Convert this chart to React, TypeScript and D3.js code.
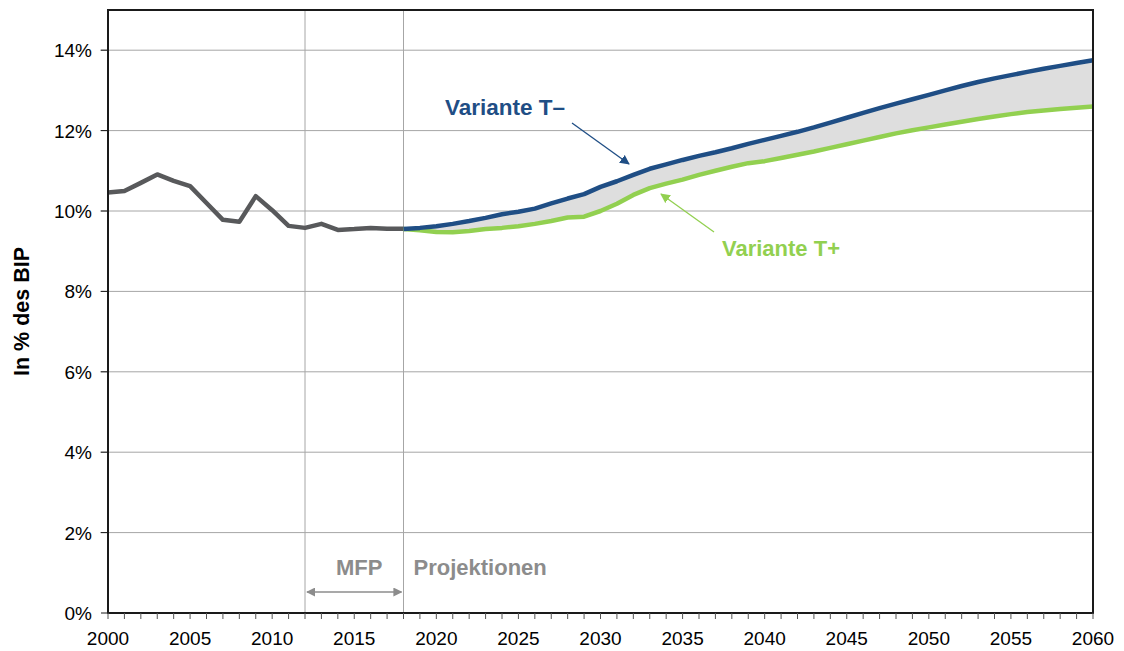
import React from "react";
import * as d3 from "d3";

// historical series 2000-2018
const histYears = d3.range(2000, 2019);
const histValues = [10.46, 10.5, 10.7, 10.91, 10.75, 10.62, 10.2, 9.78, 9.73, 10.37, 10.02, 9.63, 9.58, 9.68, 9.53, 9.55, 9.58, 9.56, 9.56];

// projections 2018-2060
const projYears = d3.range(2018, 2061);
const tMinus = [
  9.55, 9.58, 9.62, 9.68, 9.75, 9.83, 9.92, 9.98, 10.06, 10.19, 10.31, 10.42, 10.6, 10.74, 10.9, 11.05, 11.16, 11.27,
  11.37, 11.46, 11.56, 11.67, 11.77, 11.87, 11.97, 12.08, 12.2, 12.32, 12.44, 12.56, 12.67, 12.78, 12.89, 13.0, 13.11,
  13.21, 13.3, 13.38, 13.46, 13.54, 13.61, 13.68, 13.75,
];
const tPlus = [
  9.55, 9.52, 9.48, 9.47, 9.5, 9.55, 9.58, 9.62, 9.68, 9.75, 9.84, 9.86, 10.0, 10.18, 10.4, 10.57, 10.68, 10.78,
  10.9, 11.0, 11.1, 11.19, 11.24, 11.32, 11.4, 11.48, 11.57, 11.66, 11.75, 11.84, 11.93, 12.01, 12.08, 12.15, 12.22,
  12.29, 12.35, 12.41, 12.46, 12.5, 12.54, 12.57, 12.6,
];

const yTicks = [0, 2, 4, 6, 8, 10, 12, 14];
const xLabels = d3.range(2000, 2061, 5);
const markers = [2012, 2018];

const W = 1124;
const H = 651;
const M = { left: 108, right: 1093, top: 10, bottom: 613 };
const FONT = "'Liberation Sans', Arial, sans-serif";

export default function App() {
  const x = d3.scaleLinear().domain([2000, 2060]).range([M.left, M.right]);
  const y = d3.scaleLinear().domain([0, 15]).range([M.bottom, M.top]);

  const line = d3
    .line<[number, number]>()
    .x((d) => x(d[0]))
    .y((d) => y(d[1]));

  const band = d3
    .area<number>()
    .x((d, i) => x(projYears[i]))
    .y0((d, i) => y(tPlus[i]))
    .y1((d) => y(d));

  const hist = histYears.map((yr, i) => [yr, histValues[i]] as [number, number]);
  const minus = projYears.map((yr, i) => [yr, tMinus[i]] as [number, number]);
  const plus = projYears.map((yr, i) => [yr, tPlus[i]] as [number, number]);

  return (
    <svg width={W} height={H} style={{ position: "absolute", left: 0, top: 0 }} fontFamily={FONT}>
      <defs>
        <marker id="arrBlue" viewBox="0 0 10 10" refX="9" refY="5" markerWidth="7.5" markerHeight="7.5" orient="auto">
          <path d="M0,0 L10,5 L0,10 z" fill="#1f4e85" />
        </marker>
        <marker id="arrGreen" viewBox="0 0 10 10" refX="9" refY="5" markerWidth="7.5" markerHeight="7.5" orient="auto">
          <path d="M0,0 L10,5 L0,10 z" fill="#92d050" />
        </marker>
        <marker id="arrGray" viewBox="0 0 10 10" refX="9" refY="5" markerWidth="6" markerHeight="6" orient="auto-start-reverse">
          <path d="M0,0 L10,5 L0,10 z" fill="#8c8c8c" />
        </marker>
      </defs>

      {/* gridlines */}
      {yTicks.filter((t) => t > 0).map((t) => (
        <line key={t} x1={M.left - 8} x2={M.right} y1={y(t)} y2={y(t)} stroke="#a6a6a6" strokeWidth={1} />
      ))}
      {markers.map((m) => (
        <line key={m} x1={x(m)} x2={x(m)} y1={M.top} y2={M.bottom} stroke="#a6a6a6" strokeWidth={1} />
      ))}

      {/* band between variants */}
      <path d={band(tMinus) || ""} fill="#dedede" />

      {/* lines */}
      <path d={line(hist) || ""} fill="none" stroke="#58595b" strokeWidth={4.5} strokeLinejoin="round" />
      <path d={line(plus) || ""} fill="none" stroke="#92d050" strokeWidth={4.5} strokeLinejoin="round" />
      <path d={line(minus) || ""} fill="none" stroke="#1f4e85" strokeWidth={4.5} strokeLinejoin="round" />

      {/* frame */}
      <rect x={M.left} y={M.top} width={M.right - M.left} height={M.bottom - M.top} fill="none" stroke="#1a1a1a" strokeWidth={2} />

      {/* y axis ticks and labels */}
      {yTicks.map((t) => (
        <g key={t}>
          <line x1={M.left - 7} x2={M.left} y1={y(t)} y2={y(t)} stroke="#1a1a1a" strokeWidth={1} />
          <text x={92} y={y(t) + 7} textAnchor="end" fontSize={19} fill="#000">
            {t}%
          </text>
        </g>
      ))}

      {/* x axis ticks */}
      {d3.range(2000, 2061).map((yr) => (
        <line key={yr} x1={x(yr)} x2={x(yr)} y1={M.bottom} y2={M.bottom + 6} stroke="#555" strokeWidth={1} />
      ))}
      {xLabels.map((yr) => (
        <text key={yr} x={x(yr)} y={645} textAnchor="middle" fontSize={19} fill="#000">
          {yr}
        </text>
      ))}

      {/* y title */}
      <text transform={`translate(29,${y(7.5)}) rotate(-90)`} textAnchor="middle" fontSize={21.5} fontWeight="bold" fill="#000">
        In % des BIP
      </text>

      {/* annotations */}
      <text x={445} y={115} fontSize={22.5} fontWeight="bold" fill="#1f4e85">
        Variante T–
      </text>
      <line x1={572} y1={123} x2={629} y2={164} stroke="#1f4e85" strokeWidth={1.3} markerEnd="url(#arrBlue)" />

      <text x={722} y={256} fontSize={22} fontWeight="bold" fill="#92d050">
        Variante T+
      </text>
      <line x1={714} y1={232} x2={661} y2={194} stroke="#92d050" strokeWidth={1.3} markerEnd="url(#arrGreen)" />

      <text x={(x(2012) + x(2018)) / 2 + 5} y={575} textAnchor="middle" fontSize={22} fontWeight="bold" fill="#8c8c8c">
        MFP
      </text>
      <text x={x(2018) + 10} y={575} fontSize={22} fontWeight="bold" fill="#8c8c8c">
        Projektionen
      </text>
      <line
        x1={x(2012) + 2}
        x2={x(2018) - 2}
        y1={592}
        y2={592}
        stroke="#8c8c8c"
        strokeWidth={1.5}
        markerStart="url(#arrGray)"
        markerEnd="url(#arrGray)"
      />
    </svg>
  );
}
